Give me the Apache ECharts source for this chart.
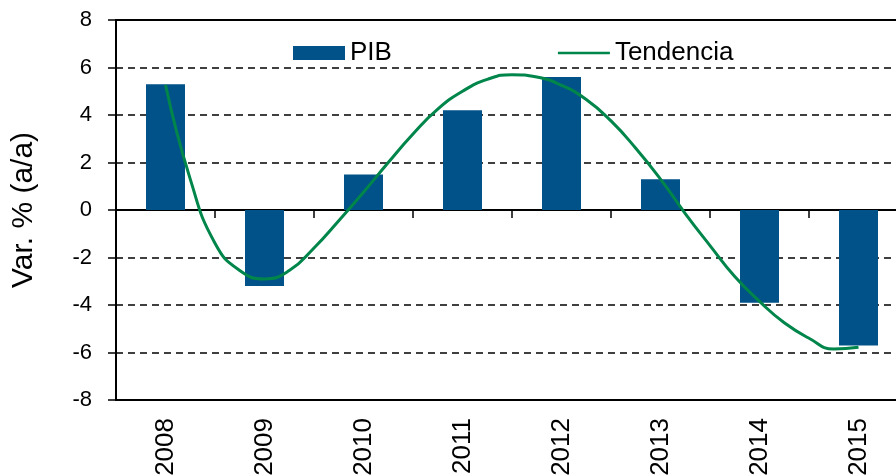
<!DOCTYPE html>
<html>
<head>
<meta charset="utf-8">
<script src="https://cdn.jsdelivr.net/npm/echarts@6/dist/echarts.min.js"></script>
<style>
html,body{margin:0;padding:0;background:#fff;overflow:hidden;}
#chart{width:896px;height:476px;}
</style>
</head>
<body>
<div id="chart"></div>
<script>
var categories = ['2008','2009','2010','2011','2012','2013','2014','2015'];
var pib = [5.3, -3.2, 1.5, 4.2, 5.6, 1.3, -3.9, -5.7];
// Trend curve at quarter-category steps (0 = 2008, 7 = 2015)
var trendX = [0, 0.25, 0.5, 0.75, 1, 1.25, 1.5, 1.75, 2, 2.25, 2.5, 2.75, 3, 3.25, 3.5, 3.75, 4, 4.25, 4.5, 4.75, 5, 5.25, 5.5, 5.75, 6, 6.25, 6.5, 6.75, 7];
var trendY = [5.27, 1.3, -1.4, -2.55, -2.9, -2.55, -1.6, -0.45, 0.75, 2.0, 3.2, 4.25, 5.0, 5.5, 5.7, 5.6, 5.25, 4.65, 3.75, 2.6, 1.3, -0.15, -1.5, -2.8, -3.85, -4.75, -5.4, -5.85, -5.78];
var yTicks = [-8, -6, -4, -2, 0, 2, 4, 6, 8];

var trendData = trendX.map(function (x, i) { return [x, trendY[i]]; });
var FONT = 'Liberation Sans, Arial, sans-serif';
var lineIcon = 'path://M0,0 L0.01,0 L0.01,0.01 Z M0,5.7 L52,5.7 L52,8.3 L0,8.3 Z M0,13.99 L0.01,13.99 L0.01,14 Z';

var chart = echarts.init(document.getElementById('chart'), null, {renderer: 'canvas'});
chart.setOption({
  animation: false,
  backgroundColor: '#fff',
  textStyle: {fontFamily: FONT},
  legend: {
    left: 288,
    top: 35,
    itemWidth: 52,
    itemHeight: 14,
    itemGap: 166,
    textStyle: {fontSize: 26, color: '#000', fontFamily: FONT},
    data: [{name: 'PIB', icon: 'rect'}, {name: 'Tendencia', icon: lineIcon}]
  },
  grid: {
    left: 116, top: 20, width: 792, height: 380,
    outerBoundsMode: 'none',
    show: true, borderColor: '#000', borderWidth: 2, backgroundColor: 'transparent',
    containLabel: false
  },
  xAxis: [
    {
      type: 'category', data: categories, boundaryGap: true,
      axisLine: {onZero: true, lineStyle: {color: '#000', width: 2}},
      axisTick: {show: true, inside: false, length: 8, lineStyle: {color: '#000', width: 1.5}},
      axisLabel: {show: false},
      splitLine: {show: false}
    },
    {
      type: 'category', data: categories, boundaryGap: true, position: 'bottom',
      axisLine: {show: false, onZero: false},
      axisTick: {show: false},
      axisLabel: {show: true, rotate: 90, margin: 18, fontSize: 26, color: '#000', fontFamily: FONT},
      splitLine: {show: false}
    },
    {
      type: 'value', min: -0.5, max: 7.5, show: false
    }
  ],
  yAxis: {
    type: 'value', min: -8, max: 8, interval: 2,
    name: 'Var. % (a/a)', nameLocation: 'middle', nameGap: 77,
    nameTextStyle: {fontSize: 30, color: '#000', fontFamily: FONT},
    axisLine: {show: true, onZero: false, lineStyle: {color: '#000', width: 2}},
    axisTick: {show: true, length: 8, lineStyle: {color: '#000', width: 1.5}},
    axisLabel: {fontSize: 22, color: '#000', margin: 24, fontFamily: FONT},
    splitLine: {show: true, lineStyle: {color: '#000', width: 1.5, type: [7, 5]}}
  },
  series: [
    {
      name: 'PIB', type: 'bar', xAxisIndex: 0, data: pib, barWidth: 39,
      itemStyle: {color: '#005288'}, z: 2
    },
    {
      name: 'Tendencia', type: 'line', xAxisIndex: 2, data: trendData,
      smooth: true, symbol: 'none', showSymbol: false,
      lineStyle: {color: '#00854A', width: 3}, itemStyle: {color: '#00854A'}, z: 3
    }
  ]
});
</script>
</body>
</html>
